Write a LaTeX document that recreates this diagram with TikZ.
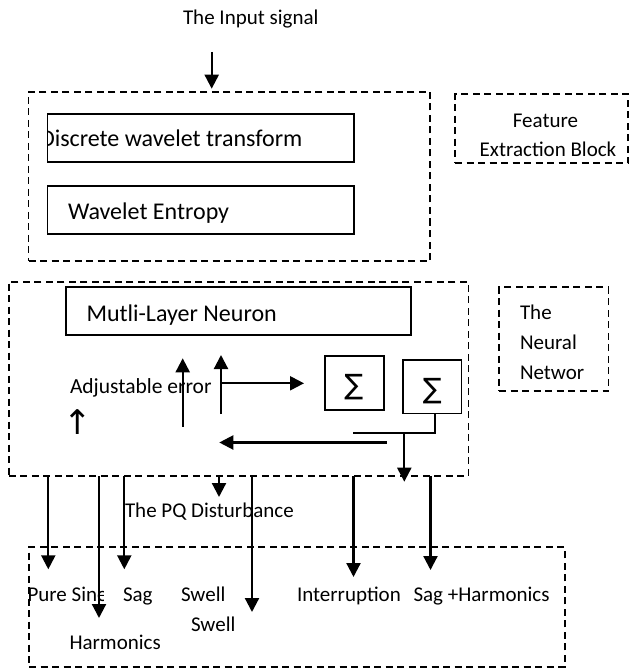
\documentclass[tikz,border=0pt]{standalone}
\usepackage{fontspec}
\setmainfont{Carlito}
\newfontfamily\symfont{DejaVu Sans}
\usetikzlibrary{arrows.meta}
\tikzset{
  dbox/.style={draw, line width=1.9pt, dash pattern=on 7pt off 4.5pt, inner sep=0pt, outer sep=0pt},
  sbox/.style={draw, line width=1.9pt, inner sep=0pt, outer sep=0pt},
  txt/.style={font=\fontsize{21}{30}\selectfont, inner sep=0pt, outer sep=0pt, anchor=base west},
  bigtxt/.style={font=\fontsize{24}{30}\selectfont, inner sep=0pt, outer sep=0pt, anchor=base west},
  arr/.style={line width=2.2pt, -{Triangle[length=14pt,width=14pt]}},
  plain/.style={line width=1.9pt},
  sig/.style={font=\symfont\fontsize{28}{28}\selectfont, inner sep=0pt}
}
\begin{document}
\begin{tikzpicture}[x=1pt,y=-1pt]
\useasboundingbox (0,0) rectangle (631,668);

% ---- top: input signal
\node[txt] (inp) at (183,25) {The Input signal};
\coordinate (ina) at (211.7,52);

% ---- feature extraction block
\node[dbox, minimum width=401.5pt, minimum height=169.3pt] (feb) at (229.25,176.35) {};
\node[sbox, minimum width=306.5pt, minimum height=48pt] (dwt) at (200.75,138) {};
\begin{scope}
  \clip (dwt.south west) rectangle (dwt.north east);
  \node[bigtxt] (dwtt) at (40,147) {Discrete wavelet transform};
\end{scope}
\node[sbox, minimum width=306.5pt, minimum height=48.3pt] (we) at (200.75,209.85) {};
\node[bigtxt] (wet) at (68,219.5) {Wavelet Entropy};

\node[dbox, minimum width=173.3pt, minimum height=69pt] (fx) at (541.65,128.8) {};
\node[txt, anchor=base] (fxt1) at (545.5,127.3) {Feature};
\node[txt, anchor=base] (fxt2) at (548,157) {Extraction Block};

\draw[arr, shorten >=3pt] (ina) -- (ina |- feb.north);

% ---- neural network block
\node[dbox, minimum width=459.6pt, minimum height=194.3pt] (nn) at (238.7,378.85) {};
\node[sbox, minimum width=344.9pt, minimum height=47.7pt] (mln) at (238.85,311.15) {};
\node[bigtxt] (mlnt) at (86.5,321) {Mutli-Layer Neuron};

\node[dbox, minimum width=109.5pt, minimum height=103.7pt] (nnl) at (553.75,339.15) {};
\node[txt] (nnl1) at (520,319.3) {The};
\node[txt] (nnl2) at (520,349.3) {Neural};
\node[txt] (nnl3) at (520,379.3) {Networ};

\node[sbox, minimum width=59pt, minimum height=54.3pt] (s1) at (354.5,382.85) {};
\node[sig] (sg1) at (353.8,387) {∑};
\node[sbox, minimum width=58.5pt, minimum height=53.5pt] (s2) at (432.25,386.75) {};
\node[sig] (sg2) at (432.3,391) {∑};

\node[font=\fontsize{21.5}{30}\selectfont, inner sep=0pt, outer sep=0pt, anchor=base west] (adj) at (70,393.3) {Adjustable error};
\node[font=\symfont\fontsize{34}{34}\selectfont, inner sep=0pt] (upc) at (77.5,421.7) {↑};

\coordinate (u1s) at (182.7,426.7);
\coordinate (u1e) at (182.7,358.3);
\coordinate (u2s) at (221,414);
\coordinate (u2e) at (221,355);
\coordinate (rs) at (221,383.3);
\coordinate (re) at (304,383.3);
\coordinate (ls) at (386.7,442.5);
\coordinate (le) at (219.3,442.5);
\coordinate (elb) at (435,433.3);
\coordinate (elbe) at (352.7,433.3);
\coordinate (da) at (404.3,433.3);
\coordinate (dae) at (404.3,481.7);

\draw[arr] (u1s) -- (u1e);
\draw[arr] (u2s) -- (u2e);
\draw[arr] (rs) -- (re);
\draw[arr] (ls) -- (le);
\draw[plain] (elb |- s2.south) -- (elb) -- (elbe);
\draw[arr] (da) -- (dae);

% ---- outputs
\node[txt] (pq) at (125,517.5) {The PQ Disturbance};
\node[dbox, minimum width=535.6pt, minimum height=119.4pt] (bb) at (296.8,607) {};

\begin{scope}
  \clip (0,570) rectangle (103.5,620);
  \node[txt] (pure) at (27.5,601) {Pure Sine};
\end{scope}
\node[txt] (sag) at (123,601) {Sag};
\node[txt] (swell1) at (181,601) {Swell};
\node[txt] (intr) at (297,601) {Interruption};
\node[txt] (sagh) at (413.5,601) {Sag +Harmonics};
\node[txt] (swell2) at (191,631.7) {Swell};
\node[txt] (harm) at (69.5,649) {Harmonics};

\coordinate (b1) at (48.3,569.3);
\coordinate (b2) at (99,618);
\coordinate (b3) at (124.3,569.3);
\coordinate (b4) at (219,497);
\coordinate (b5) at (252,612);
\coordinate (b6) at (353.5,577);
\coordinate (b7) at (430.5,570);
\foreach \b in {b1,b2,b3,b4,b5,b6,b7}
  \draw[arr] (nn.south -| \b) -- (\b);
\end{tikzpicture}
\end{document}
